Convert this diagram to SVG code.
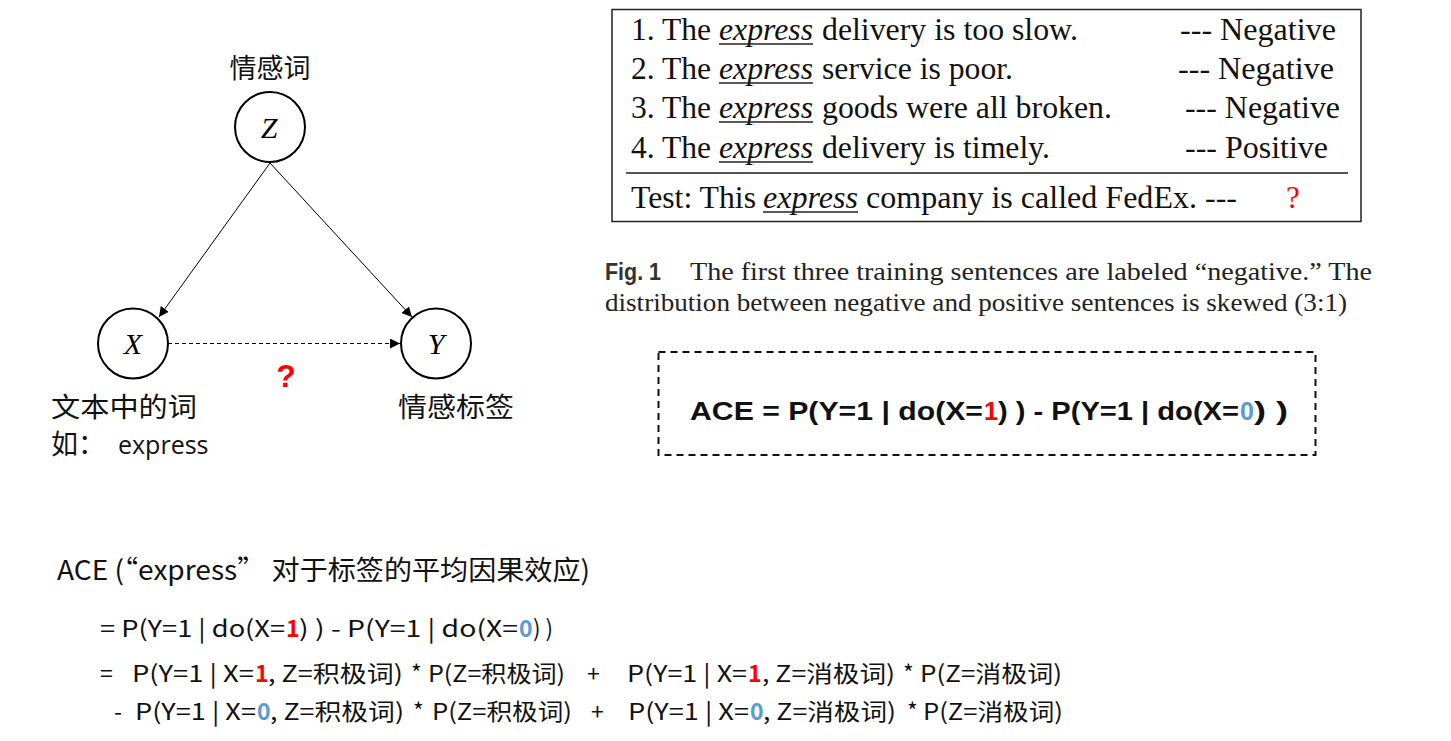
<svg xmlns="http://www.w3.org/2000/svg" width="1451" height="741" viewBox="0 0 1451 741">
<defs>
<style>
.node{fill:#fff;stroke:#000;stroke-width:2}
.var{font-family:"Liberation Serif",serif;font-style:italic;font-size:30px;text-anchor:middle}
.cjk{font-family:"Noto Sans CJK SC",sans-serif;font-size:27px;fill:#111}
.tm{font-family:"Liberation Serif",serif;font-size:31px;fill:#111}
.it{font-style:italic}
.cap{font-family:"Liberation Serif",serif;font-size:25px;fill:#222}
.eq{font-family:"Noto Sans CJK SC",sans-serif;font-size:23px;fill:#111}
.ace{font-family:"Liberation Sans",sans-serif;font-weight:bold;font-size:25px;fill:#111}
.red{fill:#ff0000 !important}
.blue{fill:#5b9bd5 !important}
.b{font-weight:bold}
.conn{stroke:#000;stroke-width:1;fill:none}
</style>
<marker id="ah" viewBox="0 0 10 10" refX="10" refY="5" markerWidth="10" markerHeight="10" markerUnits="userSpaceOnUse" orient="auto">
<path d="M0,0 L10,5 L0,10 z" fill="#000"/>
</marker>
</defs>
<rect width="1451" height="741" fill="#fff"/>

<g id="connectors">
<line class="conn" x1="270" y1="163" x2="159" y2="317" marker-end="url(#ah)"/>
<line class="conn" x1="270" y1="163" x2="412" y2="317" marker-end="url(#ah)"/>
<line class="conn" x1="168" y1="343.5" x2="400" y2="343.5" stroke-dasharray="4 3" marker-end="url(#ah)"/>
</g>

<g id="node-Z">
<circle class="node" cx="270" cy="127" r="35"/>
<text class="var" x="269" y="138">Z</text>
<text class="cjk" x="270" y="78" text-anchor="middle">情感词</text>
</g>
<g id="node-X">
<circle class="node" cx="133" cy="343.5" r="35"/>
<text class="var" x="133" y="354">X</text>
<text class="cjk" x="51" y="417" textLength="146" lengthAdjust="spacingAndGlyphs">文本中的词</text>
<text class="cjk" x="51" y="454" font-size="25">如：</text>
<text x="118" y="454" font-family="Open Sans,sans-serif" font-size="25" fill="#111">express</text>
</g>
<g id="node-Y">
<circle class="node" cx="436" cy="343.5" r="35"/>
<text class="var" x="436" y="354">Y</text>
<text class="cjk" x="398" y="417" textLength="116" lengthAdjust="spacingAndGlyphs">情感标签</text>
</g>
<text x="286" y="387" font-family="Liberation Sans,sans-serif" font-weight="bold" font-size="32" fill="#ff0000" text-anchor="middle">?</text>

<g id="table">
<rect x="612" y="9.5" width="749" height="212" fill="none" stroke="#222" stroke-width="1.5"/>
<line x1="626" y1="173" x2="1348" y2="173" stroke="#555" stroke-width="2"/>
<text class="tm" x="631" y="40" textLength="80" lengthAdjust="spacingAndGlyphs">1. The</text>
<text class="tm it" x="719" y="40" textLength="94" lengthAdjust="spacingAndGlyphs">express</text>
<text class="tm" x="822" y="40" textLength="256" lengthAdjust="spacingAndGlyphs">delivery is too slow.</text>
<text class="tm" x="1180" y="40" textLength="156" lengthAdjust="spacingAndGlyphs">--- Negative</text>
<line x1="719" y1="44" x2="813" y2="44" stroke="#222" stroke-width="1.5"/>

<text class="tm" x="631" y="79" textLength="80" lengthAdjust="spacingAndGlyphs">2. The</text>
<text class="tm it" x="719" y="79" textLength="94" lengthAdjust="spacingAndGlyphs">express</text>
<text class="tm" x="822" y="79" textLength="191" lengthAdjust="spacingAndGlyphs">service is poor.</text>
<text class="tm" x="1178" y="79" textLength="156" lengthAdjust="spacingAndGlyphs">--- Negative</text>
<line x1="719" y1="83" x2="813" y2="83" stroke="#222" stroke-width="1.5"/>

<text class="tm" x="631" y="118" textLength="80" lengthAdjust="spacingAndGlyphs">3. The</text>
<text class="tm it" x="719" y="118" textLength="94" lengthAdjust="spacingAndGlyphs">express</text>
<text class="tm" x="822" y="118" textLength="290" lengthAdjust="spacingAndGlyphs">goods were all broken.</text>
<text class="tm" x="1185" y="118" textLength="155" lengthAdjust="spacingAndGlyphs">--- Negative</text>
<line x1="719" y1="122" x2="813" y2="122" stroke="#222" stroke-width="1.5"/>

<text class="tm" x="631" y="158" textLength="80" lengthAdjust="spacingAndGlyphs">4. The</text>
<text class="tm it" x="719" y="158" textLength="94" lengthAdjust="spacingAndGlyphs">express</text>
<text class="tm" x="822" y="158" textLength="228" lengthAdjust="spacingAndGlyphs">delivery is timely.</text>
<text class="tm" x="1185" y="158" textLength="143" lengthAdjust="spacingAndGlyphs">--- Positive</text>
<line x1="719" y1="162" x2="813" y2="162" stroke="#222" stroke-width="1.5"/>

<text class="tm" x="631" y="208" textLength="125" lengthAdjust="spacingAndGlyphs">Test: This</text>
<text class="tm it" x="763" y="208" textLength="95" lengthAdjust="spacingAndGlyphs">express</text>
<text class="tm" x="866" y="208" textLength="371" lengthAdjust="spacingAndGlyphs">company is called FedEx. ---</text>
<line x1="763" y1="212" x2="858" y2="212" stroke="#222" stroke-width="1.5"/>
<text class="tm red" x="1286" y="208" font-size="28">?</text>
</g>

<g id="caption">
<text x="605" y="280" font-family="Liberation Sans,sans-serif" font-weight="bold" font-size="23" fill="#333" textLength="56" lengthAdjust="spacingAndGlyphs">Fig. 1</text>
<text class="cap" x="690" y="280" textLength="682" lengthAdjust="spacingAndGlyphs">The first three training sentences are labeled “negative.” The</text>
<text class="cap" x="605" y="311" textLength="742" lengthAdjust="spacingAndGlyphs">distribution between negative and positive sentences is skewed (3:1)</text>
</g>

<g id="ace-box">
<rect x="658.5" y="352" width="657" height="103" fill="none" stroke="#111" stroke-width="2" stroke-dasharray="7 5"/>
<text class="ace" x="690" y="420" textLength="293" lengthAdjust="spacingAndGlyphs">ACE = P(Y=1 | do(X=</text>
<text class="ace red" x="984" y="420" font-weight="normal">1</text>
<text class="ace" x="998" y="420" textLength="241" lengthAdjust="spacingAndGlyphs">) ) - P(Y=1 | do(X=</text>
<text class="ace blue" x="1240" y="420" font-weight="normal">0</text>
<text class="ace" x="1254" y="420" textLength="34" lengthAdjust="spacingAndGlyphs">) )</text>
</g>

<g id="formula">
<text class="cjk" x="57" y="580" font-size="26" textLength="533" lengthAdjust="spacingAndGlyphs">ACE (“express” 对于标签的平均因果效应)</text>

<text class="eq" x="100" y="637" textLength="185" lengthAdjust="spacingAndGlyphs">= P(Y=1 | do(X=</text>
<text class="eq red b" x="286" y="637">1</text>
<text class="eq" x="299" y="637" textLength="219" lengthAdjust="spacingAndGlyphs">) ) - P(Y=1 | do(X=</text>
<text class="eq blue b" x="519" y="637">0</text>
<text class="eq" x="533" y="637" textLength="20" lengthAdjust="spacingAndGlyphs">) )</text>

<text class="eq" x="100" y="682">=</text>
<text class="eq" x="132" y="682" textLength="122" lengthAdjust="spacingAndGlyphs">P(Y=1 | X=</text>
<text class="eq red b" x="255" y="682">1</text>
<text class="eq" x="268" y="682" textLength="135" lengthAdjust="spacingAndGlyphs">, Z=积极词)</text>
<text class="eq" x="411" y="682">*</text>
<text class="eq" x="428" y="682" textLength="137" lengthAdjust="spacingAndGlyphs">P(Z=积极词)</text>
<text class="eq" x="587" y="682">+</text>
<text class="eq" x="627" y="682" textLength="120" lengthAdjust="spacingAndGlyphs">P(Y=1 | X=</text>
<text class="eq red b" x="748" y="682">1</text>
<text class="eq" x="762" y="682" textLength="133" lengthAdjust="spacingAndGlyphs">, Z=消极词)</text>
<text class="eq" x="903" y="682">*</text>
<text class="eq" x="920" y="682" textLength="142" lengthAdjust="spacingAndGlyphs">P(Z=消极词)</text>

<text class="eq" x="114" y="720">-</text>
<text class="eq" x="135" y="720" textLength="121" lengthAdjust="spacingAndGlyphs">P(Y=1 | X=</text>
<text class="eq blue b" x="257" y="720">0</text>
<text class="eq" x="270" y="720" textLength="134" lengthAdjust="spacingAndGlyphs">, Z=积极词)</text>
<text class="eq" x="413" y="720">*</text>
<text class="eq" x="432" y="720" textLength="140" lengthAdjust="spacingAndGlyphs">P(Z=积极词)</text>
<text class="eq" x="591" y="720">+</text>
<text class="eq" x="628" y="720" textLength="121" lengthAdjust="spacingAndGlyphs">P(Y=1 | X=</text>
<text class="eq blue b" x="750" y="720">0</text>
<text class="eq" x="763" y="720" textLength="133" lengthAdjust="spacingAndGlyphs">, Z=消极词)</text>
<text class="eq" x="907" y="720">*</text>
<text class="eq" x="923" y="720" textLength="140" lengthAdjust="spacingAndGlyphs">P(Z=消极词)</text>
</g>
</svg>
